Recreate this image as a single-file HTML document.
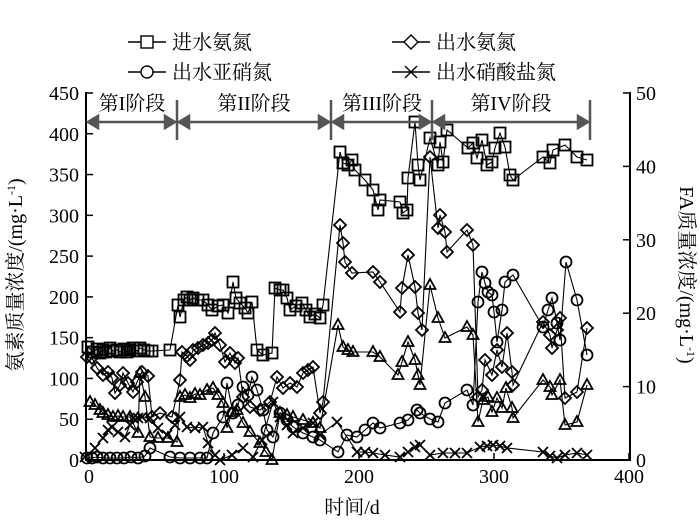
<!DOCTYPE html>
<html><head><meta charset="utf-8"><style>
body{margin:0;background:#fff}
svg{display:block;font-family:"Liberation Serif","Noto Serif CJK SC",serif}
</style></head><body>
<svg id="s" width="700" height="524" xmlns="http://www.w3.org/2000/svg">
<rect width="700" height="524" fill="#fff"/>
<g id="d" fill="none" stroke="#000" stroke-width="1.1"></g>
<g stroke="#000" stroke-width="2" fill="none">
<path d="M86,92 V460 H630 V92"/>
</g>
<g id="ax" stroke="#000" stroke-width="1.5"></g>
<g font-size="20" fill="#000" id="lab"></g>
<g stroke="#555" stroke-width="2.5" fill="#555">
<path d="M177,100V140 M331,100V140 M432,100V140 M590,100V140" fill="none"/>
<path d="M90,122H173 M181,122H327 M335,122H428 M436,122H586" fill="none"/>
<path d="M88,122l10,-6v12z M175,122l-10,-6v12z M179,122l10,-6v12z M329,122l-10,-6v12z M333,122l10,-6v12z M430,122l-10,-6v12z M434,122l10,-6v12z M588,122l-10,-6v12z"/>
</g>
<g font-size="20" fill="#000" text-anchor="middle">
<text x="132" y="110">第I阶段</text>
<text x="254" y="110">第II阶段</text>
<text x="382" y="110">第III阶段</text>
<text x="511" y="110">第IV阶段</text>
</g>
<g stroke="#000" stroke-width="1.4" fill="#fff">
<path d="M128,42H166 M392,42H430 M128,72H166 M392,72H430" fill="none"/>
<rect x="141" y="36" width="12" height="12"/>
<path d="M411,35l7,7l-7,7l-7,-7z"/>
<circle cx="147" cy="72" r="6"/>
<path d="M405,66l12,12M417,66l-12,12"/>
</g>
<g font-size="20" fill="#000">
<text x="172" y="49">进水氨氮</text>
<text x="436" y="49">出水氨氮</text>
<text x="172" y="79">出水亚硝氮</text>
<text x="436" y="79">出水硝酸盐氮</text>
</g>
<g font-size="20" fill="#000" text-anchor="middle">
<text x="352" y="514">时间/d</text>
<text transform="translate(22,275) rotate(-90)">氨素质量浓度/(mg·L<tspan font-size="12" dy="-7">-1</tspan><tspan dy="7">)</tspan></text>
<text transform="translate(680,275) rotate(90)">FA质量浓度/(mg·L<tspan font-size="12" dy="-7">-1</tspan><tspan dy="7">)</tspan></text>
</g>
</svg>
<script>
var NS="http://www.w3.org/2000/svg",d=document.getElementById('d'),ax=document.getElementById('ax'),lab=document.getElementById('lab');
function el(t,a,p){var e=document.createElementNS(NS,t);for(var k in a)e.setAttribute(k,a[k]);(p||d).appendChild(e);return e;}
for(var i=0;i<=9;i++){var y=460-i*40.78;el('line',{x1:86,x2:93,y1:y,y2:y},ax);var t=el('text',{x:79,y:y+7,'text-anchor':'end'},lab);t.textContent=i*50;}
for(var i=0;i<=5;i++){var y=460-i*73.4;el('line',{x1:623,x2:630,y1:y,y2:y},ax);var t=el('text',{x:636,y:y+7},lab);t.textContent=i*10;}
for(var i=0;i<=4;i++){var x=89+i*135;el('line',{x1:x,x2:x,y1:460,y2:453},ax);var t=el('text',{x:x,y:483,'text-anchor':'middle'},lab);t.textContent=i*100;}
function P(s){return s.trim().split(/\s+/).map(function(p){return p.split(',').map(Number)});}
var sq=P("88,347 93,352 97,349 100,353 103,350 106,352 110,348 113,351 117,350 120,352 124,349 127,352 130,350 133,348 137,351 140,348 144,350 148,351 152,351 170,350 178,305 180,317 184,300 187,297 190,300 193,298 198,300 203,300 208,305 212,310 218,306 223,305 228,313 233,282 236,298 240,303 245,308 248,313 252,302 257,350 263,355 272,353 275,288 280,290 283,290 287,298 290,310 296,306 302,303 306,310 310,317 315,314 320,318 323,305 340,152 343,163 348,165 352,160 355,170 365,180 373,190 378,210 380,200 400,202 403,213 407,210 408,178 415,122 418,165 420,180 430,138 438,165 440,142 443,162 447,130 468,148 473,143 477,158 482,140 487,165 492,162 495,148 500,133 505,147 510,175 513,180 543,157 550,163 553,150 565,145 577,157 587,160");
var dm=P("87,357 92,358 97,368 103,375 108,372 112,378 115,393 120,385 123,373 128,383 133,392 137,382 142,372 148,376 152,417 160,413 172,417 180,380 182,352 187,356 190,360 193,350 198,348 203,345 208,343 212,340 215,333 220,345 225,362 230,353 235,363 238,358 243,397 250,407 260,410 270,402 277,377 283,388 290,383 297,387 303,373 308,370 313,367 320,413 323,402 340,225 343,243 345,262 352,273 373,272 380,282 400,312 402,288 408,255 415,287 418,313 422,330 430,157 438,228 440,215 445,232 447,252 467,230 473,245 478,397 482,390 485,360 492,375 497,350 502,367 507,333 512,372 513,385 543,322 550,335 552,348 557,330 560,318 565,398 577,392 587,328");
var ci=P("87,458 92,458 97,457 103,458 110,458 117,458 124,458 131,457 138,458 145,456 150,448 170,457 180,458 190,458 200,458 207,458 213,433 223,417 227,383 233,413 238,405 243,387 248,395 252,377 257,390 263,410 267,430 273,437 280,413 287,420 293,427 303,433 313,437 320,440 338,452 347,435 357,437 365,430 373,423 380,428 400,423 408,420 417,410 420,413 430,419 438,422 445,403 467,390 473,405 478,302 482,272 485,283 488,292 492,295 494,312 497,342 502,310 505,282 513,275 543,327 548,310 552,298 557,323 560,340 566,262 577,300 587,355");
var tr=P("90,402 95,405 100,410 103,413 108,415 113,417 118,416 123,417 130,417 138,433 140,373 145,397 150,437 158,438 168,438 177,442 180,397 185,395 190,398 195,394 200,395 207,390 213,388 218,395 223,403 227,428 232,412 237,410 243,423 250,432 260,443 266,452 272,460 280,413 287,415 293,417 303,420 313,423 320,428 338,325 343,347 348,350 353,352 373,352 380,357 398,375 402,362 408,342 415,360 418,375 420,385 430,285 438,318 445,338 467,327 473,335 478,422 483,400 488,397 492,412 497,398 502,408 506,388 512,408 513,418 543,380 550,387 552,395 560,380 565,425 577,422 587,385");
var cr=P("85,457 95,448 103,438 108,430 112,427 118,432 125,437 130,425 133,418 138,418 142,417 150,418 158,428 167,435 175,425 180,417 187,427 195,428 203,427 208,443 215,455 220,460 232,455 243,448 253,457 262,440 273,402 280,417 287,425 293,433 303,428 313,423 320,435 337,422 357,452 365,452 373,453 385,455 400,457 408,452 415,447 420,445 430,455 443,453 455,453 467,453 480,447 487,446 493,445 500,446 507,448 543,452 550,456 557,458 565,455 577,453 587,455");
function line(a){el('polyline',{points:a.map(function(p){return p.join(',')}).join(' ')});}
[sq,dm,ci,tr,cr].forEach(line);
var sw=1.8;
sq.forEach(function(p){el('rect',{x:p[0]-5.5,y:p[1]-5.5,width:11,height:11,'stroke-width':sw});});
dm.forEach(function(p){el('path',{d:'M'+p[0]+','+(p[1]-6)+'l6,6l-6,6l-6,-6z','stroke-width':sw});});
ci.forEach(function(p){el('circle',{cx:p[0],cy:p[1],r:5.5,'stroke-width':sw});});
tr.forEach(function(p){el('path',{d:'M'+p[0]+','+(p[1]-6)+'l5.5,10h-11z','stroke-width':sw});});
cr.forEach(function(p){el('path',{d:'M'+(p[0]-5)+','+(p[1]-5)+'l10,10m0,-10l-10,10','stroke-width':sw});});
</script>
</body></html>
